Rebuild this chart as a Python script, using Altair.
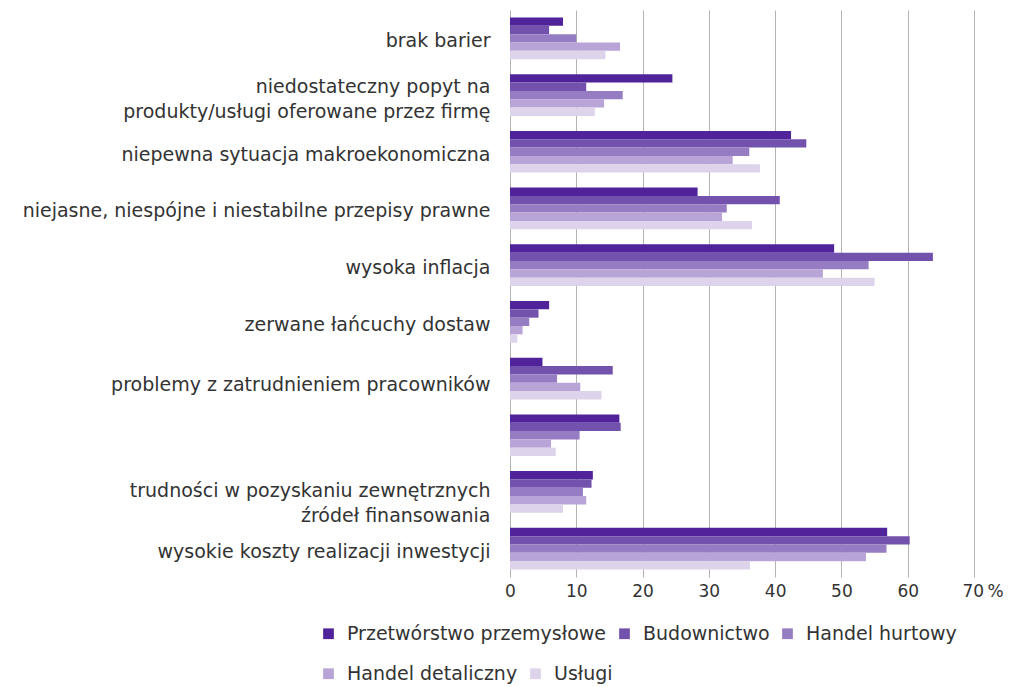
import altair as alt
import pandas as pd

categories = [
    "brak barier",
    "niedostateczny popyt na|produkty/usługi oferowane przez firmę",
    "niepewna sytuacja makroekonomiczna",
    "niejasne, niespójne i niestabilne przepisy prawne",
    "wysoka inflacja",
    "zerwane łańcuchy dostaw",
    "problemy z zatrudnieniem pracowników",
    " ",
    "trudności w pozyskaniu zewnętrznych|źródeł finansowania",
    "wysokie koszty realizacji inwestycji",
]
series = ["Przetwórstwo przemysłowe", "Budownictwo", "Handel hurtowy", "Handel detaliczny", "Usługi"]
colors = ["#50239a", "#7352ae", "#967cc2", "#b9a4d7", "#ddd3eb"]

przetworstwo = [8.0, 24.5, 42.4, 28.3, 48.9, 5.9, 4.9, 16.5, 12.5, 56.9]
budownictwo = [5.9, 11.5, 44.7, 40.7, 63.8, 4.3, 15.5, 16.7, 12.3, 60.3]
hurtowy = [10.0, 17.0, 36.1, 32.7, 54.1, 2.9, 7.1, 10.5, 11.0, 56.8]
detaliczny = [16.6, 14.2, 33.6, 32.0, 47.2, 1.9, 10.6, 6.2, 11.5, 53.7]
uslugi = [14.4, 12.8, 37.7, 36.5, 55.0, 1.1, 13.8, 6.9, 8.0, 36.2]

rows = []
for s, vals in zip(series, [przetworstwo, budownictwo, hurtowy, detaliczny, uslugi]):
    for c, v in zip(categories, vals):
        rows.append({"kategoria": c, "sektor": s, "wartosc": v})
df = pd.DataFrame(rows)

FONT = "DejaVu Sans"

base = alt.Chart(df).mark_bar().encode(
    y=alt.Y(
        "kategoria:N",
        sort=categories,
        title=None,
        scale=alt.Scale(paddingInner=0.265, paddingOuter=0.1325),
        axis=alt.Axis(
            labelExpr="split(datum.label, '|')",
            labelFont=FONT,
            labelFontSize=19,
            labelColor="#333333",
            labelPadding=20,
            labelLineHeight=25,
            labelLimit=600,
            labelOffset={
                "condition": [
                    {"test": "indexof(datum.value, 'niedostateczny') == 0", "value": -8},
                    {"test": "indexof(datum.value, 'problemy') == 0", "value": 6},
                    {"test": "indexof(datum.value, 'trudno') == 0", "value": -1},
                ],
                "value": 3,
            },
            ticks=False,
            domain=False,
        ),
    ),
    yOffset=alt.YOffset("sektor:N", sort=series, scale=alt.Scale(domain=series)),
    x=alt.X(
        "wartosc:Q",
        title=None,
        scale=alt.Scale(domain=[0, 70], nice=False),
        axis=alt.Axis(
            values=[0, 10, 20, 30, 40, 50, 60, 70],
            labelExpr="datum.value == 70 ? '70\u2009%' : datum.label",
            labelAlign={"condition": {"test": "datum.value == 70", "value": "left"}, "value": "center"},
            labelOffset={"condition": {"test": "datum.value == 70", "value": -12}, "value": 0},
            labelFont=FONT,
            labelFontSize=17,
            labelColor="#333333",
            labelPadding=6,
            ticks=False,
            domain=False,
            grid=True,
            gridColor="#b3b3b3",
            gridWidth=1,
        ),
    ),
)


def legend_for(y):
    return alt.Legend(
        title=None,
        orient="none",
        legendX=-191,
        legendY=y,
        direction="horizontal",
        symbolType="square",
        symbolSize=115,
        symbolStrokeWidth=0,
        labelFont=FONT,
        labelFontSize=19,
        labelColor="#333333",
        labelLimit=400,
        columnPadding=8,
        labelOffset=9,
    )


row1 = series[:3]
row2 = series[3:]

layer1 = base.transform_filter(alt.FieldOneOfPredicate(field="sektor", oneOf=row1)).encode(
    color=alt.Color(
        "sektor:N",
        sort=row1,
        scale=alt.Scale(domain=row1, range=colors[:3]),
        legend=legend_for(614),
    )
)
layer2 = base.transform_filter(alt.FieldOneOfPredicate(field="sektor", oneOf=row2)).encode(
    color=alt.Color(
        "sektor:N",
        sort=row2,
        scale=alt.Scale(domain=row2, range=colors[3:]),
        legend=legend_for(654),
    )
)

chart = alt.layer(layer1, layer2).resolve_scale(color="independent").properties(
    width=464,
    height=567,
    autosize=alt.AutoSizeParams(type="none"),
    padding={"left": 502, "top": 2, "right": 29, "bottom": 110},
).configure_view(stroke=None)

chart.save("out.html", embed_options={"renderer": "svg", "actions": False})
